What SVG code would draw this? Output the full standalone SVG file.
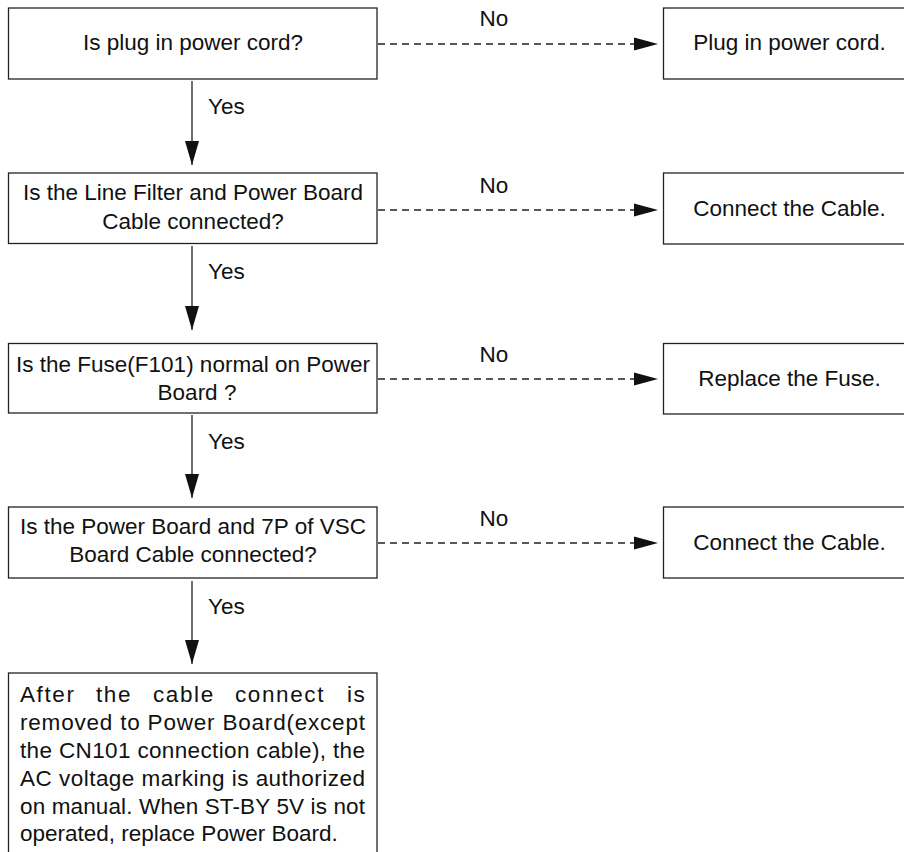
<svg xmlns="http://www.w3.org/2000/svg" width="904" height="852" viewBox="0 0 904 852">
  <style>
    .box { fill: #ffffff; stroke: #222222; stroke-width: 1.3; }
    .t { font-family: "Liberation Sans", Arial, Helvetica, sans-serif; font-size: 22.5px; fill: #111111; }
    .c { text-anchor: middle; }
    .solid { stroke: #222222; stroke-width: 1.3; fill: none; }
    .dash { stroke: #222222; stroke-width: 1.3; fill: none; stroke-dasharray: 7 5; }
    .head { fill: #111111; }
  </style>
  <defs>
    <marker id="ah" markerUnits="userSpaceOnUse" markerWidth="26" markerHeight="16" refX="24" refY="7" orient="auto">
      <path d="M0,0 L24,7 L0,14 Z" fill="#111111"/>
    </marker>
  </defs>
  <rect x="0" y="0" width="904" height="852" fill="#ffffff"/>

  <g id="q1">
    <rect class="box" x="8.5" y="8" width="368.5" height="71"/>
    <text class="t c" x="193" y="50">Is plug in power cord?</text>
  </g>
  <g id="a1">
    <rect class="box" x="663.5" y="8" width="260" height="71"/>
    <text class="t c" x="789.5" y="50">Plug in power cord.</text>
  </g>

  <g id="q2">
    <rect class="box" x="8.5" y="173" width="368.5" height="70.5"/>
    <text class="t c" x="193" y="199.5">Is the Line Filter and Power Board</text>
    <text class="t c" x="193" y="228.5">Cable connected?</text>
  </g>
  <g id="a2">
    <rect class="box" x="663.5" y="173" width="260" height="71"/>
    <text class="t c" x="789.5" y="216">Connect the Cable.</text>
  </g>

  <g id="q3">
    <rect class="box" x="8.5" y="343.5" width="368.5" height="69.5"/>
    <text class="t c" x="193" y="372">Is the Fuse(F101) normal on Power</text>
    <text class="t c" x="197" y="400">Board ?</text>
  </g>
  <g id="a3">
    <rect class="box" x="663.5" y="343.5" width="260" height="70.5"/>
    <text class="t c" x="789.5" y="385.5">Replace the Fuse.</text>
  </g>

  <g id="q4">
    <rect class="box" x="8.5" y="507" width="368.5" height="71"/>
    <text class="t c" x="193" y="533.5">Is the Power Board and 7P of VSC</text>
    <text class="t c" x="193" y="562">Board Cable connected?</text>
  </g>
  <g id="a4">
    <rect class="box" x="663.5" y="507" width="260" height="71"/>
    <text class="t c" x="789.5" y="550">Connect the Cable.</text>
  </g>

  <g id="final">
    <rect class="box" x="8.5" y="673" width="368.5" height="200"/>
    <text class="t" y="701.5" letter-spacing="1.6"><tspan x="20">After</tspan><tspan x="96">the</tspan><tspan x="153">cable</tspan><tspan x="235">connect</tspan><tspan x="347">is</tspan></text>
    <text class="t" x="20" y="729.5" textLength="345" lengthAdjust="spacing">removed to Power Board(except</text>
    <text class="t" x="20" y="757.5" textLength="345" lengthAdjust="spacing">the CN101 connection cable), the</text>
    <text class="t" x="20" y="785.5" textLength="345" lengthAdjust="spacing">AC voltage marking is authorized</text>
    <text class="t" x="20" y="813.5" textLength="345" lengthAdjust="spacing">on manual. When ST-BY 5V is not</text>
    <text class="t" x="20" y="841">operated, replace Power Board.</text>
  </g>

  <g id="connectors">
    <line class="solid" x1="192" y1="81" x2="192" y2="165" marker-end="url(#ah)"/>
    <line class="solid" x1="192" y1="246" x2="192" y2="330" marker-end="url(#ah)"/>
    <line class="solid" x1="192" y1="415" x2="192" y2="498" marker-end="url(#ah)"/>
    <line class="solid" x1="192" y1="581" x2="192" y2="664" marker-end="url(#ah)"/>
    <text class="t" x="208" y="113.5">Yes</text>
    <text class="t" x="208" y="278.5">Yes</text>
    <text class="t" x="208" y="448.5">Yes</text>
    <text class="t" x="208" y="613.5">Yes</text>

    <line class="dash" x1="378" y1="44" x2="636" y2="44"/>
    <path class="head" d="M634,37.5 L658,44 L634,50.5 Z"/>
    <line class="dash" x1="378" y1="210" x2="636" y2="210"/>
    <path class="head" d="M634,203.5 L658,210 L634,216.5 Z"/>
    <line class="dash" x1="378" y1="379" x2="636" y2="379"/>
    <path class="head" d="M634,372.5 L658,379 L634,385.5 Z"/>
    <line class="dash" x1="378" y1="543" x2="636" y2="543"/>
    <path class="head" d="M634,536.5 L658,543 L634,549.5 Z"/>
    <text class="t c" x="494" y="26">No</text>
    <text class="t c" x="494" y="192.5">No</text>
    <text class="t c" x="494" y="362">No</text>
    <text class="t c" x="494" y="526">No</text>
  </g>
</svg>
